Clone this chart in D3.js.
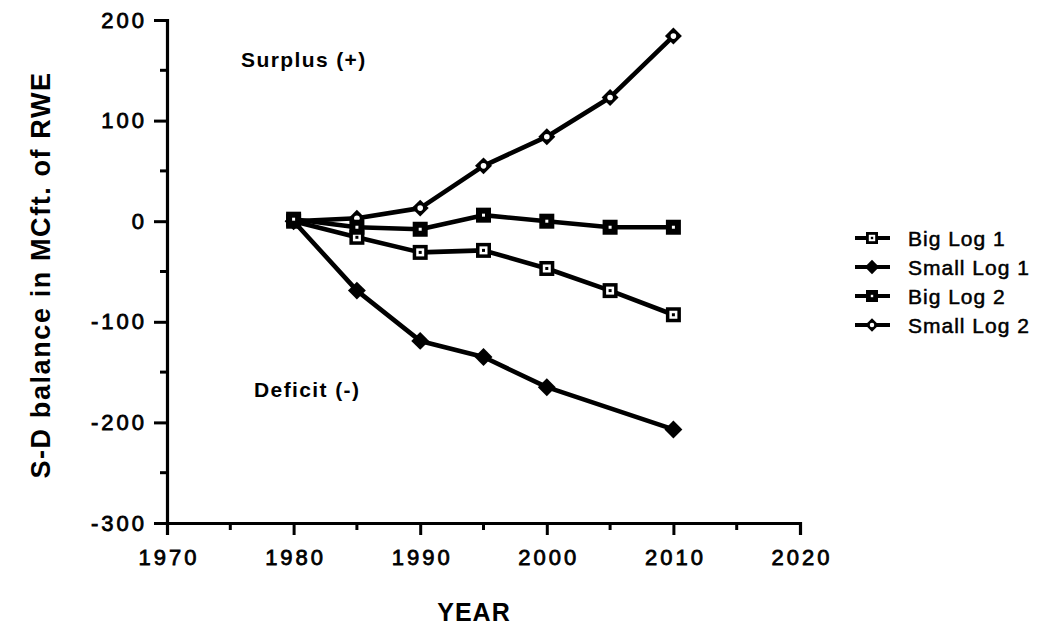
<!DOCTYPE html>
<html>
<head>
<meta charset="utf-8">
<script src="https://cdn.jsdelivr.net/npm/d3@7"></script>
<style>
  html, body { margin: 0; padding: 0; background: #fff; }
  svg { display: block; }
  text { font-family: "Liberation Sans", Arial, Helvetica, sans-serif; fill: #000; }
</style>
</head>
<body>
<svg id="chart" width="1047" height="626"></svg>
<script>
// Supply-demand balance of roundwood equivalent, four log-size scenarios
const seriesNames = ["Big Log 1", "Small Log 1", "Big Log 2", "Small Log 2"];
const years = [1980, 1985, 1990, 1995, 2000, 2005, 2010];
const bigLog1   = [0, -16, -31, -29, -47, -69, -93];
const smallLog1 = [0, -69, -119, -135, -165, null, -207];
const bigLog2   = [2, -6, -8, 6, 0, -6, -6];
const smallLog2 = [0, 3, 13, 55, 84, 123, 184];
const yTicks = [-300, -200, -100, 0, 100, 200];
const xTicks = [1970, 1980, 1990, 2000, 2010, 2020];

const svg = d3.select("#chart");
const x = d3.scaleLinear().domain([1970, 2020]).range([167, 800]);
const y = d3.scaleLinear().domain([-300, 200]).range([523, 20]);
const fmt = d => String(d); // plain hyphen for negatives

// ---- axes ----
const axisG = svg.append("g");
const yAxis = axisG.append("g").attr("transform", `translate(${x(1970)},0)`)
  .call(d3.axisLeft(y).tickValues(yTicks).tickSize(13).tickPadding(10).tickFormat(fmt));
yAxis.selectAll("line").attr("stroke-width", 3);
yAxis.append("g").selectAll("line").data(d3.range(-250, 200, 100)).join("line")
  .attr("x1", -7).attr("x2", 0).attr("y1", d => y(d)).attr("y2", d => y(d))
  .attr("stroke", "#000").attr("stroke-width", 3);

const xAxis = axisG.append("g").attr("transform", `translate(0,${y(-300)})`)
  .call(d3.axisBottom(x).tickValues(xTicks).tickSize(12).tickPadding(14).tickFormat(fmt));
xAxis.selectAll("line").attr("stroke-width", 3);
xAxis.append("g").selectAll("line").data(d3.range(1975, 2020, 10)).join("line")
  .attr("x1", d => x(d)).attr("x2", d => x(d)).attr("y1", 0).attr("y2", 7)
  .attr("stroke", "#000").attr("stroke-width", 3);

axisG.selectAll(".domain").attr("stroke-width", 3.2).attr("stroke", "#000");
axisG.selectAll(".tick text")
  .attr("font-size", 22).attr("letter-spacing", "3px")
  .attr("stroke", "#000").attr("stroke-width", 0.8)
  .style("font-family", '"Liberation Sans", Arial, sans-serif');
yAxis.selectAll(".tick text").attr("dx", "3px");
xAxis.selectAll(".tick text").attr("dx", "1.5px");

// ---- marker shapes ----
function drawMarker(g, kind, s) {
  // s = scale factor (1 for plot, smaller for legend)
  if (kind === 0) { // open square with centre dot
    g.append("rect").attr("x", -7.5 * s).attr("y", -7.5 * s).attr("width", 15 * s).attr("height", 15 * s).attr("fill", "#000");
    g.append("rect").attr("x", -4 * s).attr("y", -4 * s).attr("width", 8 * s).attr("height", 8 * s).attr("fill", "#fff");
    g.append("rect").attr("x", -1.5 * s).attr("y", -1.5 * s).attr("width", 3 * s).attr("height", 3 * s).attr("fill", "#000");
  } else if (kind === 1) { // filled diamond
    g.append("path").attr("d", d3.symbol(d3.symbolSquare, 160 * s * s)()).attr("transform", "rotate(45)").attr("fill", "#000");
  } else if (kind === 2) { // filled square with white dot
    g.append("rect").attr("x", -7.5 * s).attr("y", -7.5 * s).attr("width", 15 * s).attr("height", 15 * s).attr("fill", "#000");
    g.append("rect").attr("x", -1.5 * s).attr("y", -1.5 * s).attr("width", 3 * s).attr("height", 3 * s).attr("fill", "#fff");
  } else { // open diamond with white centre
    g.append("path").attr("d", d3.symbol(d3.symbolSquare, 144 * s * s)()).attr("transform", "rotate(45)").attr("fill", "#000");
    g.append("circle").attr("r", 2.8 * s).attr("fill", "#fff");
  }
}

// ---- series ----
const allSeries = [bigLog1, smallLog1, bigLog2, smallLog2];
const line = d3.line().x(d => x(d.yr)).y(d => y(d.v));
const plotG = svg.append("g");
allSeries.forEach(vals => {
  const pts = years.map((yr, i) => ({ yr, v: vals[i] })).filter(d => d.v !== null);
  plotG.append("path").datum(pts).attr("d", line)
    .attr("fill", "none").attr("stroke", "#000").attr("stroke-width", 4.6).attr("stroke-linejoin", "round");
});
// markers drawn back to front so Big Log 2 sits on top at the common start
[3, 0, 1, 2].forEach(k => {
  const vals = allSeries[k];
  years.forEach((yr, i) => {
    if (vals[i] === null) return;
    const g = plotG.append("g").attr("transform", `translate(${x(yr)},${y(vals[i])})`);
    drawMarker(g, k, 1);
  });
});

// ---- annotations ----
svg.append("text").attr("x", 241).attr("y", 67).attr("font-size", 21).attr("font-weight", "bold")
  .attr("letter-spacing", "1.4px").text("Surplus (+)");
svg.append("text").attr("x", 254).attr("y", 397).attr("font-size", 21).attr("font-weight", "bold")
  .attr("letter-spacing", "1.4px").text("Deficit (-)");

// axis titles
svg.append("text").attr("transform", "translate(50,275) rotate(-90)").attr("text-anchor", "middle")
  .attr("font-size", 27).attr("font-weight", "bold").attr("letter-spacing", "1.6px")
  .text("S-D balance in MCft. of RWE");
svg.append("text").attr("x", 474).attr("y", 621).attr("text-anchor", "middle")
  .attr("font-size", 25).attr("font-weight", "bold").attr("letter-spacing", "1px").text("YEAR");

// ---- legend ----
const legend = svg.append("g");
seriesNames.forEach((name, i) => {
  const cy = 238 + i * 29;
  const g = legend.append("g").attr("transform", `translate(0,${cy})`);
  g.append("line").attr("x1", 855).attr("x2", 890).attr("y1", 0).attr("y2", 0)
    .attr("stroke", "#000").attr("stroke-width", 4);
  const m = g.append("g").attr("transform", "translate(872,0)");
  drawMarker(m, i, 0.8);
  g.append("text").attr("x", 908).attr("y", 7.5).attr("font-size", 21).attr("letter-spacing", "1px")
    .attr("stroke", "#000").attr("stroke-width", 0.5).text(name);
});
</script>
</body>
</html>
